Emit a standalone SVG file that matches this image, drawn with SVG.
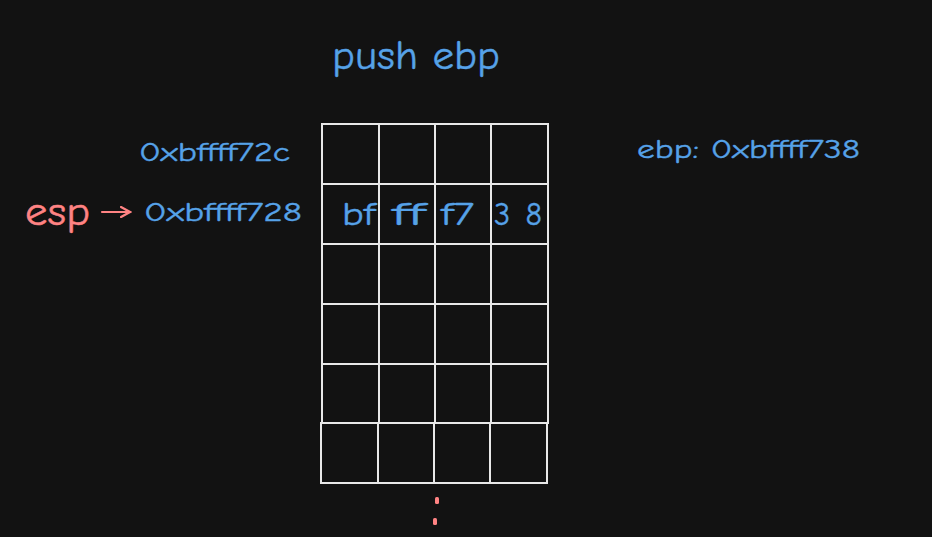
<svg xmlns="http://www.w3.org/2000/svg" width="932" height="537" viewBox="0 0 932 537">
<style>
.bl{fill:#56a2e8;stroke:#56a2e8;stroke-width:0.4;font-family:"Comic Neue","Liberation Sans",sans-serif;font-variant-ligatures:none}
.cell{fill:none;stroke:#e8e8e8;stroke-width:2}
.lbl{font-size:27px}
.byte{font-size:32px}
</style>
<defs>
<marker id="ah" markerWidth="12" markerHeight="12" refX="10" refY="6" orient="auto" markerUnits="userSpaceOnUse">
<path d="M1,1 L10,6 L1,11" fill="none" stroke="#ff8383" stroke-width="2.2" stroke-linecap="round"/>
</marker>
</defs>
<rect width="932" height="537" fill="#121212"/>
<g id="title"><text class="bl" x="416" y="69" font-size="40" text-anchor="middle" textLength="168" lengthAdjust="spacingAndGlyphs">push ebp</text></g>
<g id="addr1"><text class="bl lbl" x="139" y="161" textLength="151" lengthAdjust="spacingAndGlyphs">0xbffff72c</text></g>
<g id="addr2"><text class="bl lbl" x="144" y="221" textLength="158" lengthAdjust="spacingAndGlyphs">0xbffff728</text></g>
<g id="ebp"><text class="bl lbl" x="637" y="158" textLength="223" lengthAdjust="spacingAndGlyphs">ebp: 0xbffff738</text></g>
<g id="esp"><text x="25" y="225" font-family="'Comic Neue','Liberation Sans',sans-serif" font-size="40" fill="#ff8383" stroke="#ff8383" stroke-width="0.5" textLength="65" lengthAdjust="spacingAndGlyphs">esp</text></g>
<g id="stack">
<rect class="cell" x="322" y="124" width="57" height="60"/>
<rect class="cell" x="379" y="124" width="56" height="60"/>
<rect class="cell" x="435" y="124" width="56" height="60"/>
<rect class="cell" x="491" y="124" width="57" height="60"/>
<rect class="cell" x="322" y="184" width="57" height="60"/>
<rect class="cell" x="379" y="184" width="56" height="60"/>
<rect class="cell" x="435" y="184" width="56" height="60"/>
<rect class="cell" x="491" y="184" width="57" height="60"/>
<rect class="cell" x="322" y="244" width="57" height="60"/>
<rect class="cell" x="379" y="244" width="56" height="60"/>
<rect class="cell" x="435" y="244" width="56" height="60"/>
<rect class="cell" x="491" y="244" width="57" height="60"/>
<rect class="cell" x="322" y="304" width="57" height="60"/>
<rect class="cell" x="379" y="304" width="56" height="60"/>
<rect class="cell" x="435" y="304" width="56" height="60"/>
<rect class="cell" x="491" y="304" width="57" height="60"/>
<rect class="cell" x="322" y="364" width="57" height="59"/>
<rect class="cell" x="379" y="364" width="56" height="59"/>
<rect class="cell" x="435" y="364" width="56" height="59"/>
<rect class="cell" x="491" y="364" width="57" height="59"/>
<rect class="cell" x="321" y="423" width="57" height="60"/>
<rect class="cell" x="378" y="423" width="56" height="60"/>
<rect class="cell" x="434" y="423" width="56" height="60"/>
<rect class="cell" x="490" y="423" width="57" height="60"/>
</g>
<g id="bytes">
<text class="bl byte" x="342" y="225" textLength="33" lengthAdjust="spacingAndGlyphs">bf</text>
<text class="bl byte" x="392" y="225" textLength="33" lengthAdjust="spacingAndGlyphs">ff</text>
<text class="bl byte" x="441" y="225" textLength="33" lengthAdjust="spacingAndGlyphs">f7</text>
<text class="bl byte" x="494" y="225" font-size="34" textLength="48">38</text>
</g>
<g id="connectors">
<line x1="102" y1="212" x2="130" y2="212" stroke="#ff8383" stroke-width="2.2" stroke-linecap="round" marker-end="url(#ah)"/>
</g>
<g id="dots" fill="#ff8383">
<rect x="435" y="497" width="4" height="7" rx="1.5"/>
<rect x="433" y="518" width="4" height="7" rx="1.5"/>
</g>
</svg>
